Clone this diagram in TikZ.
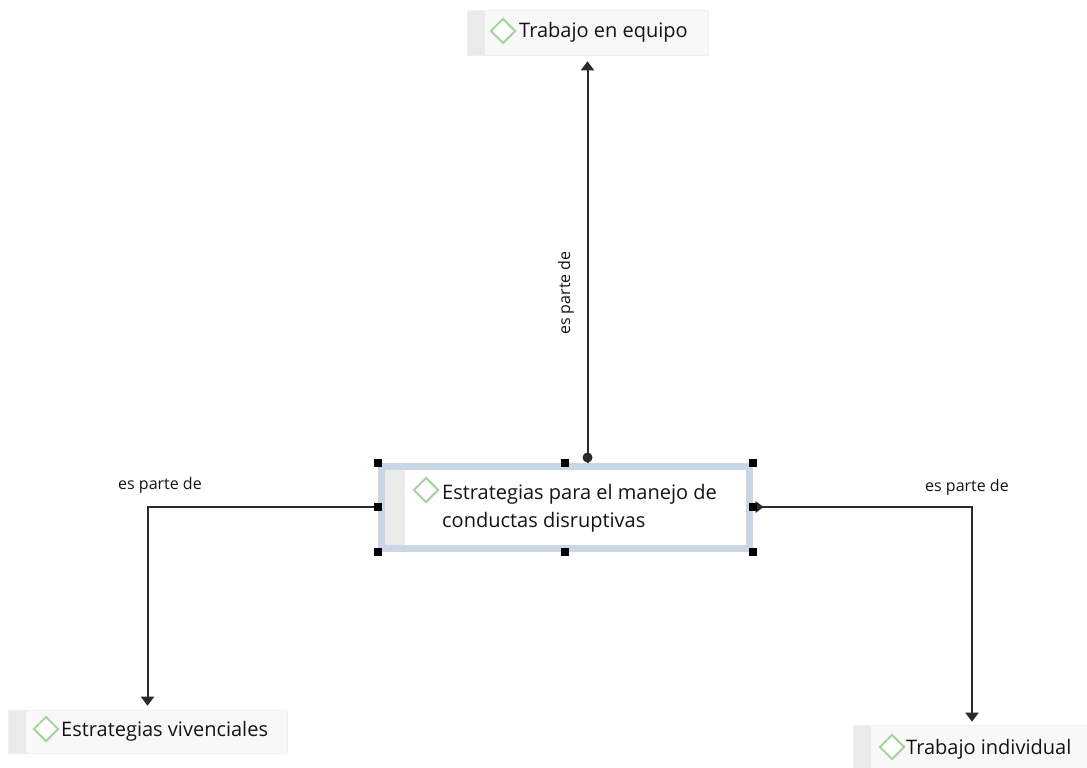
\documentclass[tikz,border=0pt]{standalone}
\usepackage{fontspec}
\setmainfont{Open Sans}
\usetikzlibrary{arrows.meta,calc,shapes.geometric}
\definecolor{txt}{HTML}{141414}
\definecolor{conn}{HTML}{2A2A2A}
\definecolor{boxfill}{HTML}{F8F8F8}
\definecolor{strip}{HTML}{EAEAEA}
\definecolor{selblue}{HTML}{C9D6E6}
\definecolor{diagreen}{HTML}{A6D49C}
\tikzset{
  concept/.style={rectangle, fill=boxfill, draw=gray!12, line width=0.6pt, inner sep=0pt,
    path picture={\fill[strip] (path picture bounding box.south west) rectangle ([xshift=18pt]path picture bounding box.north west);}},
  dia/.style={diamond, draw=diagreen, line width=2pt, minimum width=25pt, minimum height=25pt, inner sep=0pt, fill=white},
  ctext/.style={font=\fontsize{20}{22}\selectfont, text=txt, inner sep=0pt},
  rel/.style={font=\fontsize{16}{18}\selectfont, text=txt, inner sep=0pt},
  link/.style={draw=conn, line width=2pt, -{Triangle[width=13pt,length=9pt]}},
  handle/.style={rectangle, fill=black, minimum size=8pt, inner sep=0pt},
}
\begin{document}
\begin{tikzpicture}[x=1pt,y=-1pt]
\useasboundingbox[fill=white] (0,0) rectangle (1087,768);
% concept boxes
\node[concept, minimum width=241pt, minimum height=45pt] (top) at (587.5,32.5) {};
\node[dia] (topdia) at (503,31) {};
\node[ctext, anchor=base west] (toptext) at (519,38) {Trabajo en equipo};

\node[concept, minimum width=279pt, minimum height=43pt] (bl) at (147.5,731.5) {};
\node[dia] (bldia) at (46,729) {};
\node[ctext, anchor=base west] (bltext) at (61,736) {Estrategias vivenciales};

\node[concept, minimum width=238pt, minimum height=45pt] (br) at (972,747.5) {};
\node[dia] (brdia) at (892,747) {};
\node[ctext, anchor=base west] (brtext) at (906,754) {Trabajo individual};

% selected central concept
\node[rectangle, draw=selblue, line width=7pt, fill=white, minimum width=368pt, minimum height=82pt, inner sep=0pt,
  path picture={\fill[strip] ([xshift=4pt]path picture bounding box.south west) rectangle ([xshift=24pt]path picture bounding box.north west);}] (center) at (565,507) {};
\node[dia] (cdia) at (426,490) {};
\node[ctext, anchor=base west] (ctext1) at (442,499) {Estrategias para el manejo de};
\node[ctext, anchor=base west] (ctext2) at (442,527) {conductas disruptivas};

% connectors
\draw[link, shorten >=6pt] (top.south |- center.north) -- (top.south);
\fill[conn] (top.south |- center.north) ++(0,-5) circle (5pt);
\draw[link, shorten >=4pt] (center.west) -| (bl.north);
\draw[link, shorten >=3pt] (center.east) -| (br.north);
\fill[conn] ($(center.east)+(3,-6)$) -- ++(8,6) -- ++(-8,6) -- cycle;

% handles
\foreach \a in {north west,north,north east,west,east,south west,south,south east}
  \node[handle] at (center.\a) {};

% relation labels
\node[rel] (lbltop) at (566,293) [rotate=90] {es parte de};
\node[rel] (lblleft) at (160,485) {es parte de};
\node[rel] (lblright) at (967,487) {es parte de};
\end{tikzpicture}
\end{document}
